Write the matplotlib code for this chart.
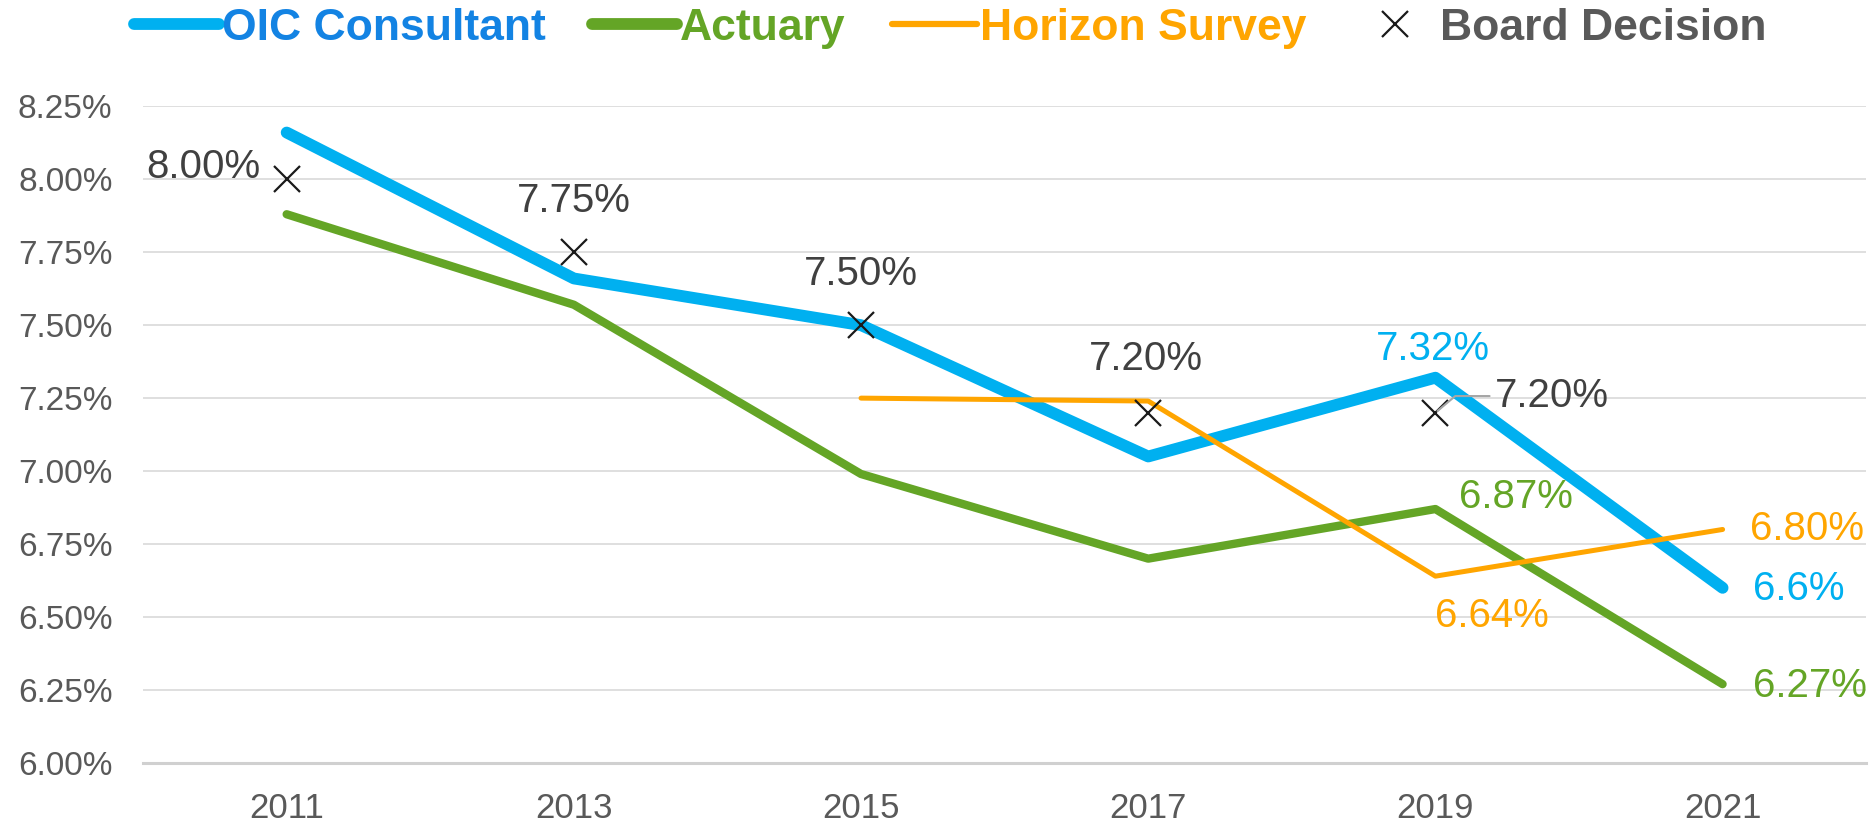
import numpy as np
import matplotlib
matplotlib.use('Agg')
import matplotlib.pyplot as plt
from matplotlib.lines import Line2D
from matplotlib.ticker import FuncFormatter, MultipleLocator

years = ['2011', '2013', '2015', '2017', '2019', '2021']
oic_consultant = [8.16, 7.66, 7.50, 7.05, 7.32, 6.60]
actuary = [7.88, 7.57, 6.99, 6.70, 6.87, 6.27]
horizon_survey = [np.nan, np.nan, 7.25, 7.24, 6.64, 6.80]
board_decision = [8.00, 7.75, 7.50, 7.20, 7.20, np.nan]

board_labels = ['8.00%', '7.75%', '7.50%', '7.20%', '7.20%']
oic_labels = {4: '7.32%', 5: '6.6%'}
actuary_labels = {4: '6.87%', 5: '6.27%'}
horizon_labels = {4: '6.64%', 5: '6.80%'}

C_BLUE = '#00b0f0'
C_BLUE_TXT = '#1383e3'
C_GREEN = '#64a526'
C_ORANGE = '#ffa500'
C_GRAY_TXT = '#404040'
C_TICK = '#595959'

plt.rcParams['font.family'] = ['Liberation Sans', 'DejaVu Sans']

fig = plt.figure(figsize=(18.75, 8.25), dpi=100)
ax = fig.add_axes([0.0763, 0.0752, 0.919, 0.796])

x = np.arange(len(years))
ax.plot(x, actuary, color=C_GREEN, lw=6, solid_capstyle='round', solid_joinstyle='round', zorder=3)
ax.plot(x, oic_consultant, color=C_BLUE, lw=8.5, solid_capstyle='round', solid_joinstyle='round', zorder=4)
ax.plot(x, horizon_survey, color=C_ORANGE, lw=3.6, solid_capstyle='round', solid_joinstyle='round', zorder=5)
ax.plot(x, board_decision, ls='none', marker='x', ms=19, mew=1.6, color='#1a1a1a', zorder=6)

ax.set_xlim(-0.5, len(years) - 0.5)
ax.set_ylim(6.0, 8.25)
ax.set_xticks(x)
ax.set_xticklabels(years)
ax.yaxis.set_major_locator(MultipleLocator(0.25))
ax.yaxis.set_major_formatter(FuncFormatter(lambda v, p: f'{v:.2f}%'))
ax.tick_params(axis='both', length=0, colors=C_TICK)
ax.tick_params(axis='y', pad=22, labelsize=24)
ax.tick_params(axis='x', pad=21, labelsize=25)
ax.grid(axis='y', color='#d9d9d9', lw=1.2, zorder=0)
ax.set_axisbelow(True)
for s in ['top', 'right', 'left']:
    ax.spines[s].set_visible(False)
ax.spines['bottom'].set_color('#d0d0d0')
ax.spines['bottom'].set_linewidth(2.2)

fs = 29
# Board decision labels
offsets = [(-19, 9, 'right'), (0, 37, 'center'), (0, 37, 'center'), (-2, 39, 'center')]
for i, (dx, dy, ha) in enumerate(offsets):
    ax.annotate(board_labels[i], (x[i], board_decision[i]), xytext=(dx, dy),
                textcoords='offset points', ha=ha, va='center', fontsize=fs, color=C_GRAY_TXT, zorder=7)
ax.annotate(board_labels[4], (x[4], board_decision[4]), xytext=(43, 12),
            textcoords='offset points', ha='left', va='center', fontsize=fs, color=C_GRAY_TXT, zorder=7,
            arrowprops=dict(arrowstyle='-', color='#a6a6a6', lw=1.5, shrinkA=2, shrinkB=2,
                            connectionstyle='angle,angleA=0,angleB=40,rad=0'))

ax.annotate(oic_labels[4], (x[4], oic_consultant[4]), xytext=(-2, 21), textcoords='offset points',
            ha='center', va='center', fontsize=fs, color=C_BLUE, zorder=7)
ax.annotate(oic_labels[5], (x[5], oic_consultant[5]), xytext=(22, -1), textcoords='offset points',
            ha='left', va='center', fontsize=fs, color=C_BLUE, zorder=7)
ax.annotate(actuary_labels[4], (x[4], actuary[4]), xytext=(17, 9), textcoords='offset points',
            ha='left', va='center', fontsize=fs, color=C_GREEN, zorder=7)
ax.annotate(actuary_labels[5], (x[5], actuary[5]), xytext=(22, -1), textcoords='offset points',
            ha='left', va='center', fontsize=fs, color=C_GREEN, zorder=7)
ax.annotate(horizon_labels[4], (x[4], horizon_survey[4]), xytext=(0, -29), textcoords='offset points',
            ha='left', va='center', fontsize=fs, color=C_ORANGE, zorder=7)
ax.annotate(horizon_labels[5], (x[5], horizon_survey[5]), xytext=(20, 0), textcoords='offset points',
            ha='left', va='center', fontsize=fs, color=C_ORANGE, zorder=7)

handles = [
    Line2D([], [], color=C_BLUE, lw=8.5, solid_capstyle='round'),
    Line2D([], [], color=C_GREEN, lw=8.5, solid_capstyle='round'),
    Line2D([], [], color=C_ORANGE, lw=4.5, solid_capstyle='round'),
    Line2D([], [], ls='none', marker='x', ms=19, mew=1.6, color='#1a1a1a'),
]
names = ['OIC Consultant', 'Actuary', 'Horizon Survey', 'Board Decision']
fig.legend(handles, names, loc='center', bbox_to_anchor=(0.507, 0.966), ncol=4, frameon=False,
           prop={'weight': 'bold', 'size': 32}, handlelength=1.9, handletextpad=0.07,
           columnspacing=1.05, borderpad=0, borderaxespad=0,
           labelcolor=[C_BLUE_TXT, C_GREEN, C_ORANGE, C_TICK])

fig.savefig('out.png', dpi=100)
